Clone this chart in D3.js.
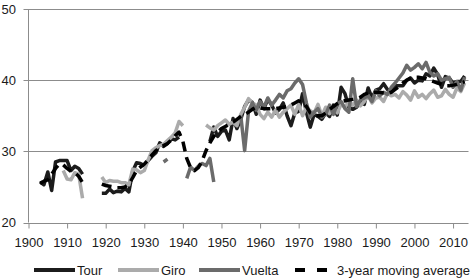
<!DOCTYPE html>
<html>
<head>
<meta charset="utf-8">
<script src="https://cdn.jsdelivr.net/npm/d3@7"></script>
<style>
  body { margin: 0; background: #fff; }
  svg { display: block; font-family: "Liberation Sans", Arial, sans-serif; }
</style>
</head>
<body>
<svg id="chart" width="473" height="278"></svg>
<script>
// years run 1900..2013, one value per year (null = no race / no value)
const firstYear = 1900;

const tour = [
  null, null, null, 25.7, 25.3, 27.1, 24.5, 28.5, 28.7, 28.7,
  28.7, 27.3, 27.9, 27.6, 26.8, null, null, null, null, 24.1,
  24.1, 24.7, 24.2, 24.4, 24.3, 24.8, 24.3, 27.2, 28.4, 28.3,
  28.0, 28.7, 29.3, 29.8, 31.2, 30.7, 31.1, 31.8, 31.6, 32.0,
  null, null, null, null, null, null, null, 31.4, 33.4, 32.1,
  32.8, 33.0, 31.6, 34.6, 33.2, 34.5, 36.3, 37.2, 36.9, 35.2,
  37.2, 36.0, 37.3, 36.5, 35.4, 35.9, 36.8, 35.0, 33.6, 35.4,
  35.6, 38.1, 35.5, 33.4, 35.2, 34.9, 34.5, 35.4, 34.9, 36.5,
  35.1, 39.0, 38.1, 36.2, 35.9, 36.2, 37.0, 36.6, 38.9, 37.5,
  38.6, 38.8, 39.5, 38.7, 38.4, 39.2, 39.2, 39.2, 40.0, 40.3,
  39.6, 40.0, 39.9, 40.9, 40.6, 41.7, 40.8, 39.0, 40.5, 40.3,
  39.6, 39.8, 39.8, 40.6
];

const giro = [
  null, null, null, null, null, null, null, null, null, 27.3,
  26.1, 26.0, 27.0, 26.8, 23.4, null, null, null, null, 26.4,
  25.6, 25.9, 25.8, 25.8, 25.6, 25.6, 25.3, 27.5, 27.4, 27.0,
  27.3, 28.8, 30.1, 30.5, 30.8, 31.0, 31.5, 32.0, 32.6, 34.2,
  33.6, null, null, null, null, null, 33.7, 33.3, 33.0, 33.6,
  34.0, 34.4, 33.8, 34.1, 33.6, 35.2, 36.2, 37.4, 36.8, 36.5,
  35.2, 34.6, 35.5, 34.8, 35.8, 34.8, 35.5, 36.0, 36.5, 35.2,
  36.6, 35.0, 36.2, 35.7, 35.4, 36.6, 35.0, 36.2, 35.3, 36.0,
  35.4, 36.6, 36.2, 37.0, 36.5, 37.2, 36.4, 37.0, 37.8, 36.8,
  37.5, 37.6, 37.0, 38.2, 37.8, 38.0, 37.5, 38.4, 37.9, 37.2,
  38.5, 37.6, 38.0, 37.4, 38.1, 38.6, 37.6, 37.8, 38.7, 38.0,
  37.6, 38.9, 38.4, 39.6
];

const vuelta = [
  null, null, null, null, null, null, null, null, null, null,
  null, null, null, null, null, null, null, null, null, null,
  null, null, null, null, null, null, null, null, null, null,
  null, null, null, null, null, 28.5, 28.9, null, null, null,
  null, 26.2, 27.8, 27.3, 27.9, 28.3, 28.0, 29.0, 25.7, null,
  null, null, null, null, null, 35.0, 30.1, 35.6, 36.8, 35.8,
  37.0, 36.2, 37.5, 36.5, 37.2, 38.0, 37.5, 38.5, 38.8, 39.6,
  40.2, 39.4, 36.8, 34.8, 35.5, 36.0, 34.8, 35.2, 36.5, 35.2,
  36.7, 37.0, 36.0, 35.5, 40.2, 36.3, 37.2, 37.5, 37.8, 37.0,
  38.5, 37.8, 38.3, 38.0, 39.0, 39.6, 40.3, 41.0, 42.1, 41.4,
  41.8, 42.3, 41.6, 42.5, 41.1, 40.6, 40.9, 40.0, 40.2, 40.4,
  39.0, 39.8, 38.6, 40.4
];

const movingAvg = [
  null, null, null, 25.5, 25.8, 26.0, 26.8, 27.6, 28.2, 28.1,
  27.6, 27.2, 27.0, 26.5, 25.6, null, null, null, null, 25.4,
  25.2, 25.1, 25.0, 24.9, 24.9, 25.0, 25.4, 26.3, 27.3, 27.8,
  28.2, 28.8, 29.5, 30.1, 30.5, 30.8, 31.1, 31.6, 32.2, 32.7,
  31.4, 29.0, 27.7, 27.3, 27.7, 28.7, 30.1, 31.2, 32.1, 32.7,
  33.2, 33.5, 33.8, 34.1, 34.5, 34.9, 35.2, 35.5, 35.9, 36.2,
  36.1, 36.0, 36.0, 36.0, 36.0, 36.1, 36.2, 36.3, 36.5, 36.8,
  37.1, 36.9, 36.3, 35.4, 35.1, 35.0, 35.0, 35.4, 35.9, 36.3,
  36.7, 37.0, 37.1, 37.2, 37.3, 37.4, 37.6, 38.0, 38.2, 38.3,
  38.3, 38.3, 38.2, 38.1, 38.3, 38.7, 39.1, 39.6, 40.0, 40.3,
  40.4, 40.4, 40.3, 40.2, 40.0, 39.8, 39.6, 39.4, 39.2, 39.2,
  39.3, 39.4, 39.6, 39.8
];

const yTicks = [20, 30, 40, 50];
const xTicks = d3.range(1900, 2011, 10);

const series = [
  {name: "Tour", values: tour, color: "#1c1c1c", dash: null},
  {name: "Giro", values: giro, color: "#ababab", dash: null},
  {name: "Vuelta", values: vuelta, color: "#6b6b6b", dash: null},
  {name: "3-year moving average", values: movingAvg, color: "#000", dash: "10,6"}
];

const svg = d3.select("#chart");
const plotL = 28.5, plotR = 468.5, plotT = 9, plotB = 222.5;

const x = d3.scaleLinear().domain([1900, 2014]).range([plotL, plotR]);
const y = d3.scaleLinear().domain([20, 50]).range([plotB, plotT]);

// horizontal gridlines (with a short stub left of the axis)
svg.append("g")
  .selectAll("line")
  .data(yTicks)
  .join("line")
  .attr("x1", plotL - 5)
  .attr("x2", plotR)
  .attr("y1", d => Math.round(y(d)) + 0.5)
  .attr("y2", d => Math.round(y(d)) + 0.5)
  .attr("stroke", "#8c8c8c")
  .attr("stroke-width", 1);

svg.append("g")
  .selectAll("text")
  .data(yTicks)
  .join("text")
  .attr("x", 16)
  .attr("y", d => y(d))
  .attr("dy", "0.35em")
  .attr("text-anchor", "end")
  .attr("font-size", 13)
  .attr("fill", "#1a1a1a")
  .text(d => d);

// y axis line
svg.append("line")
  .attr("x1", plotL).attr("x2", plotL)
  .attr("y1", plotT).attr("y2", plotB)
  .attr("stroke", "#8c8c8c");

// x axis
const xAxis = svg.append("g")
  .attr("transform", `translate(0,${Math.round(plotB) + 0.5})`)
  .call(d3.axisBottom(x).tickValues(xTicks).tickFormat(d3.format("d")).tickSize(5).tickSizeOuter(0));
xAxis.select(".domain").remove();
xAxis.selectAll("line").attr("stroke", "#8c8c8c");
xAxis.selectAll("text")
  .attr("y", 14)
  .attr("font-size", 13)
  .attr("font-family", "Liberation Sans, Arial, sans-serif")
  .attr("fill", "#1a1a1a");

// lines
const line = d3.line()
  .defined(d => d[1] != null)
  .x(d => x(d[0]))
  .y(d => y(d[1]));

series.forEach(s => {
  const pts = s.values.map((v, i) => [firstYear + i, v]);
  svg.append("path")
    .datum(pts)
    .attr("d", line)
    .attr("fill", "none")
    .attr("stroke", s.color)
    .attr("stroke-width", 3.5)
    .attr("stroke-linejoin", "round")
    .attr("stroke-dasharray", s.dash);
});

// legend
const legendPos = [
  {x1: 34, x2: 75, tx: 77},
  {x1: 118, x2: 159, tx: 161},
  {x1: 199, x2: 240, tx: 242},
  {x1: 295, x2: 331, tx: 337}
];
const legend = svg.append("g");
series.forEach((s, i) => {
  const p = legendPos[i];
  legend.append("line")
    .attr("x1", p.x1).attr("x2", p.x2)
    .attr("y1", 270).attr("y2", 270)
    .attr("stroke", s.color)
    .attr("stroke-width", 4)
    .attr("stroke-dasharray", s.dash ? "10,12" : null);
  legend.append("text")
    .attr("x", p.tx)
    .attr("y", 275)
    .attr("font-size", 13)
    .attr("fill", "#1a1a1a")
    .text(s.name);
});
</script>
</body>
</html>
